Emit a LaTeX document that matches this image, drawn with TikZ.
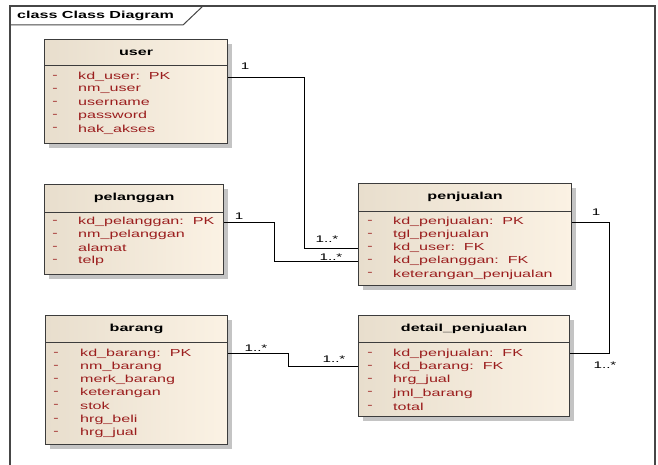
\documentclass[tikz,border=0pt]{standalone}
\usepackage{fontspec}
\usetikzlibrary{shadows}
\newfontfamily\umlfont[FakeStretch=1.58]{Liberation Sans}
\definecolor{attrred}{RGB}{155,30,30}
\definecolor{boxline}{RGB}{60,60,60}
\definecolor{fillL}{RGB}{232,222,205}
\definecolor{fillR}{RGB}{251,242,228}
\definecolor{shadowgray}{RGB}{196,196,196}
\definecolor{framegray}{RGB}{70,70,70}
\begin{document}
\begin{tikzpicture}[x=1pt,y=-1pt,
  classbox/.style={rectangle, draw=boxline, line width=1.1pt, inner sep=0pt,
    anchor=north west, left color=fillL, right color=fillR,
    drop shadow={shadow xshift=4pt, shadow yshift=-4pt, fill=shadowgray, opacity=1}},
  classname/.style={font=\umlfont\bfseries\fontsize{10.2}{12}\selectfont, inner sep=0pt},
  attr/.style={font=\umlfont\fontsize{10.2}{12}\selectfont, text=attrred, anchor=west, inner sep=0pt},
  dashmark/.style={font=\umlfont\fontsize{10.2}{12}\selectfont, text=attrred, inner sep=0pt},
  mult/.style={font=\umlfont\fontsize{9.6}{11}\selectfont, inner sep=0pt},
  assoc/.style={draw=black, line width=0.9pt},
  sepline/.style={draw=boxline, line width=1pt}]
\useasboundingbox (0,0) rectangle (658,465);

% diagram frame with its name tab
\draw[framegray, line width=1.2pt] (10,465) -- (10,6) -- (655,6) -- (655,465);
\draw[framegray, line width=1pt] (10,25) -- (183,25) -- (203,6);
\node[classname, anchor=west] (title) at (17,16) {class Class Diagram};

% ---- user ----
\node[classbox, minimum width=183pt, minimum height=104pt] (user) at (44,39) {};
\draw[sepline] ([yshift=-27pt]user.north west) -- ([yshift=-27pt]user.north east);
\node[classname] (user-name) at ([yshift=-13.5pt]user.north) {user};
\foreach \t [count=\i] in {kd\_user:~~PK, nm\_user, username, password, hak\_akses} {
  \node[dashmark] (u-d\i) at (55,{77+13.1*(\i-1)}) {-};
  \node[attr] (u\i) at (78,{77+13.1*(\i-1)}) {\t};
}

% ---- pelanggan ----
\node[classbox, minimum width=179pt, minimum height=90pt] (pel) at (44,184) {};
\draw[sepline] ([yshift=-28pt]pel.north west) -- ([yshift=-28pt]pel.north east);
\node[classname] (pel-name) at ([yshift=-14pt]pel.north) {pelanggan};
\foreach \t [count=\i] in {kd\_pelanggan:~~PK, nm\_pelanggan, alamat, telp} {
  \node[dashmark] (l-d\i) at (55,{222+13.1*(\i-1)}) {-};
  \node[attr] (l\i) at (78,{222+13.1*(\i-1)}) {\t};
}

% ---- barang ----
\node[classbox, minimum width=182pt, minimum height=129pt] (bar) at (45,315) {};
\draw[sepline] ([yshift=-27pt]bar.north west) -- ([yshift=-27pt]bar.north east);
\node[classname] (bar-name) at ([yshift=-13.5pt]bar.north) {barang};
\foreach \t [count=\i] in {kd\_barang:~~PK, nm\_barang, merk\_barang, keterangan, stok, hrg\_beli, hrg\_jual} {
  \node[dashmark] (b-d\i) at (56,{353.5+13.2*(\i-1)}) {-};
  \node[attr] (b\i) at (80,{353.5+13.2*(\i-1)}) {\t};
}

% ---- penjualan ----
\node[classbox, minimum width=213pt, minimum height=102pt] (penj) at (358,183) {};
\draw[sepline] ([yshift=-28pt]penj.north west) -- ([yshift=-28pt]penj.north east);
\node[classname] (penj-name) at ([yshift=-14pt]penj.north) {penjualan};
\foreach \t [count=\i] in {kd\_penjualan:~~PK, tgl\_penjualan, kd\_user:~~FK, kd\_pelanggan:~~FK, keterangan\_penjualan} {
  \node[dashmark] (p-d\i) at (370,{222+13.1*(\i-1)}) {-};
  \node[attr] (p\i) at (393,{222+13.1*(\i-1)}) {\t};
}

% ---- detail_penjualan ----
\node[classbox, minimum width=211pt, minimum height=101pt] (det) at (358,315) {};
\draw[sepline] ([yshift=-27pt]det.north west) -- ([yshift=-27pt]det.north east);
\node[classname] (det-name) at ([yshift=-13.5pt]det.north) {detail\_penjualan};
\foreach \t [count=\i] in {kd\_penjualan:~~FK, kd\_barang:~~FK, hrg\_jual, jml\_barang, total} {
  \node[dashmark] (d-d\i) at (370,{353.5+13.3*(\i-1)}) {-};
  \node[attr] (d\i) at (393,{353.5+13.3*(\i-1)}) {\t};
}

% ---- associations ----
\coordinate (j1) at (304,0);
\coordinate (j2) at (274,0);
\coordinate (j3) at (288,0);
\coordinate (j4) at (609,0);
\draw[assoc] (user.east |- u1) -| (j1 |- p3) -- (penj.west |- p3);
\draw[assoc] (pel.east |- l1) -| (j2 |- p4) -- (penj.west |- p4);
\draw[assoc] (bar.east |- b1) -| (j3 |- d2) -- (det.west |- d2);
\draw[assoc] (penj.east |- p1) -| (j4 |- d1) -- (det.east |- d1);

% multiplicities
\node[mult] (m1) at (245,66) {1};
\node[mult] (m2) at (327,239) {1..*};
\node[mult] (m3) at (239,216) {1};
\node[mult] (m4) at (331,257) {1..*};
\node[mult] (m5) at (256,348) {1..*};
\node[mult] (m6) at (334,359) {1..*};
\node[mult] (m7) at (596,212) {1};
\node[mult] (m8) at (605,365) {1..*};
\end{tikzpicture}
\end{document}
